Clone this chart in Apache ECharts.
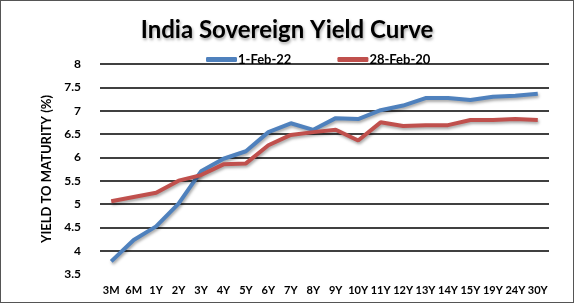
<!DOCTYPE html>
<html><head><meta charset="utf-8">
<script src="https://cdn.jsdelivr.net/npm/echarts@6/dist/echarts.min.js"></script>
<style>html,body{margin:0;padding:0;background:#fff}#c{width:574px;height:303px;box-sizing:border-box;border:1px solid #555}</style>
</head><body><div id="c"></div>
<script>
var categories = ['3M','6M','1Y','2Y','3Y','4Y','5Y','6Y','7Y','8Y','9Y','10Y','11Y','12Y','13Y','14Y','15Y','19Y','24Y','30Y'];
var feb22 = [3.77,4.23,4.52,5.01,5.70,5.97,6.13,6.54,6.73,6.59,6.84,6.82,7.01,7.11,7.27,7.27,7.23,7.30,7.32,7.36];
var feb20 = [5.06,5.15,5.24,5.50,5.62,5.85,5.87,6.26,6.48,6.54,6.59,6.36,6.75,6.67,6.69,6.69,6.80,6.80,6.82,6.80];
var yTicks = [3.5,4,4.5,5,5.5,6,6.5,7,7.5,8];
var chart = echarts.init(document.getElementById('c'));
var font = 'Lato, "Open Sans", sans-serif';
chart.setOption({
  animation:false,
  title:{text:'India Sovereign Yield Curve',left:'center',top:12,
    textStyle:{fontFamily:font,fontSize:24,fontWeight:'bold',color:'#000',
      textShadowColor:'rgba(0,0,0,0.35)',textShadowBlur:3,textShadowOffsetX:1,textShadowOffsetY:2}},
  legend:{top:47,left:200,itemGap:46,itemWidth:31,itemHeight:5,icon:'roundRect',
    textStyle:{fontFamily:font,fontSize:13,fontWeight:'bold',color:'#000',padding:[0,0,0,-4]},
    data:['1-Feb-22','28-Feb-20']},
  grid:{left:99,right:24,top:63,bottom:28,containLabel:false},
  xAxis:{type:'category',data:categories,boundaryGap:true,
    axisLine:{show:false},axisTick:{show:false},
    axisLabel:{fontFamily:font,fontSize:11,fontWeight:'bold',color:'#000',margin:11,interval:0}},
  yAxis:{type:'value',min:3.5,max:8,interval:0.5,
    name:'YIELD TO MATURITY (%)',nameLocation:'middle',nameGap:22,
    nameTextStyle:{fontFamily:font,fontSize:13,fontWeight:'bold',color:'#000'},
    axisLine:{show:false},axisTick:{show:false},
    axisLabel:{fontFamily:font,fontSize:12,fontWeight:'bold',color:'#000',margin:19,
      formatter:function(v){return yTicks.indexOf(v)>=0?String(v):'';}},
    splitLine:{lineStyle:{color:'#000',width:1.5},
      showMinLine:false}},
  series:[
    {name:'1-Feb-22',type:'line',data:feb22,symbol:'none',smooth:false,
      itemStyle:{color:'#4F81BD'},
      lineStyle:{color:'#4F81BD',width:4,shadowColor:'rgba(0,0,0,0.35)',shadowBlur:3,shadowOffsetX:1,shadowOffsetY:2}},
    {name:'28-Feb-20',type:'line',data:feb20,symbol:'none',
      itemStyle:{color:'#C0504D'},
      lineStyle:{color:'#C0504D',width:4,shadowColor:'rgba(0,0,0,0.35)',shadowBlur:3,shadowOffsetX:1,shadowOffsetY:2}}
  ]
});
</script></body></html>
